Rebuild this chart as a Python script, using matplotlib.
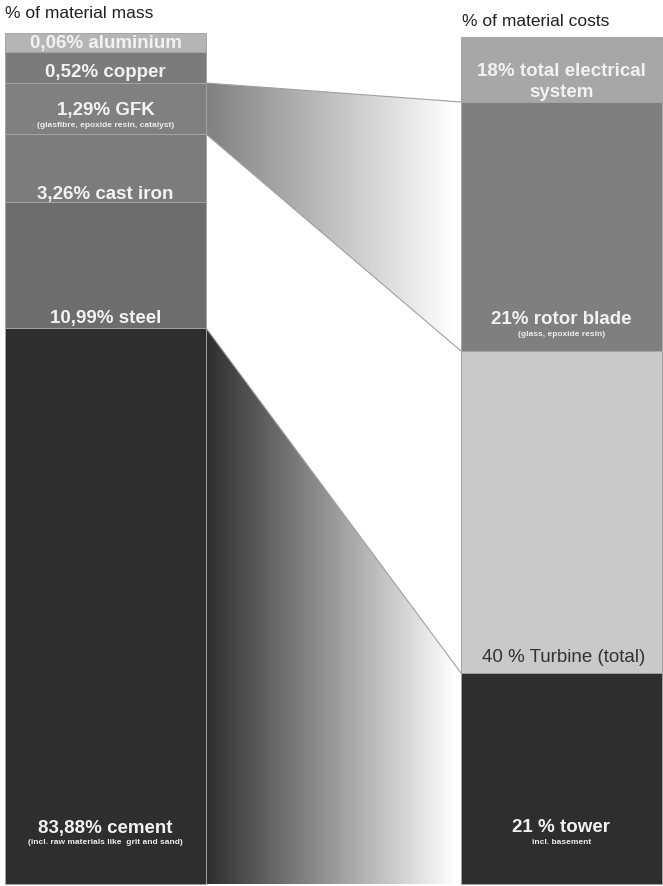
import numpy as np
import matplotlib
matplotlib.use("Agg")
import matplotlib.pyplot as plt
from matplotlib.patches import Rectangle, Polygon
from matplotlib.colors import LinearSegmentedColormap

plt.rcParams['font.family'] = ['Liberation Sans Narrow', 'Liberation Sans', 'DejaVu Sans']

# left column: share of material mass (drawn heights)
mass_labels = ["0,06% aluminium", "0,52% copper", "1,29% GFK", "3,26% cast iron",
               "10,99% steel", "83,88% cement"]
mass_notes = ["", "", "(glasfibre, epoxide resin, catalyst)", "", "",
              "(incl. raw materials like  grit and sand)"]
mass_heights = [19, 31, 51, 68, 126, 556]
mass_colors = ["#b5b5b5", "#7b7b7b", "#808080", "#7c7c7c", "#6d6d6d", "#2e2e2e"]

# right column: share of material costs
cost_labels = ["18% total electrical\nsystem", "21% rotor blade", "40 % Turbine (total)", "21 % tower"]
cost_notes = ["", "(glass, epoxide resin)", "", "incl. basement"]
cost_heights = [65, 249, 322, 211]
cost_colors = ["#a7a7a7", "#7f7f7f", "#c9c9c9", "#2e2e2e"]

# which mass segment flows into which cost segment
links = [(2, 1), (5, 3)]

# layout
W, H = 663, 886
left_x, right_x, bar_w = 5, 461, 201
left_top, right_top = 33, 37
mass_label_off = [9, 11, 24, 8, 10, 56]
cost_label_off = [20, 31, 16, 57]

fig = plt.figure(figsize=(W / 100, H / 100), dpi=100)
ax = fig.add_axes([0, 0, 1, 1])
ax.set_xlim(0, W)
ax.set_ylim(H, 0)
ax.axis('off')


def draw_column(x0, top, heights, colors, labels, notes, offs, dark_idx=()):
    edges = [top]
    for h in heights:
        edges.append(edges[-1] + h)
    for i, h in enumerate(heights):
        ax.add_patch(Rectangle((x0, edges[i]), bar_w, h, facecolor=colors[i],
                               edgecolor="#a4a4a4", lw=0.7, zorder=2))
        ty = edges[i + 1] - offs[i]
        if i in dark_idx:
            ax.text(x0 + bar_w / 2 + 2, ty, labels[i], ha='center', va='center',
                    fontsize=13.5, color="#333333", zorder=5)
        else:
            ax.text(x0 + bar_w / 2, ty, labels[i], ha='center', va='center',
                    fontsize=13.5, fontweight='bold', color="#f2f2f2",
                    linespacing=1.25, zorder=5)
        if notes[i]:
            ax.text(x0 + bar_w / 2, ty + 15, notes[i], ha='center', va='center',
                    fontsize=6, fontweight='bold', color="#eeeeee", zorder=5)
    return edges


l_edges = draw_column(left_x, left_top, mass_heights, mass_colors, mass_labels,
                      mass_notes, mass_label_off)
r_edges = draw_column(right_x, right_top, cost_heights, cost_colors, cost_labels,
                      cost_notes, cost_label_off, dark_idx=(2,))

# gradient bands between the columns
x_a, x_b = left_x + bar_w, right_x
for li, ri in links:
    poly = [(x_a, l_edges[li]), (x_b, r_edges[ri]), (x_b, r_edges[ri + 1]), (x_a, l_edges[li + 1])]
    patch = Polygon(poly, closed=True, facecolor='none', edgecolor='none')
    ax.add_patch(patch)
    cmap = LinearSegmentedColormap.from_list('g', [mass_colors[li], "#ffffff"])
    grad = np.linspace(0, 1, 256).reshape(1, -1)
    y_top = min(l_edges[li], r_edges[ri])
    y_bot = max(l_edges[li + 1], r_edges[ri + 1])
    im = ax.imshow(grad, cmap=cmap, aspect='auto', interpolation='bilinear',
                   extent=(x_a, x_b - 6, y_bot, y_top), zorder=1)
    im.set_clip_path(patch)
    ax.plot([x_a, x_b], [l_edges[li], r_edges[ri]], color="#a0a0a0", lw=0.8, zorder=3)
    if r_edges[ri + 1] != l_edges[li + 1]:
        ax.plot([x_a, x_b], [l_edges[li + 1], r_edges[ri + 1]], color="#a0a0a0", lw=0.8, zorder=3)

ax.set_xlim(0, W)
ax.set_ylim(H, 0)

ax.text(5, 13, "% of material mass", ha='left', va='center', fontsize=12.5,
        family=['Liberation Sans', 'DejaVu Sans'], color="#222222")
ax.text(462, 21, "% of material costs", ha='left', va='center', fontsize=12.5,
        family=['Liberation Sans', 'DejaVu Sans'], color="#222222")

fig.savefig("out.png", dpi=100)
